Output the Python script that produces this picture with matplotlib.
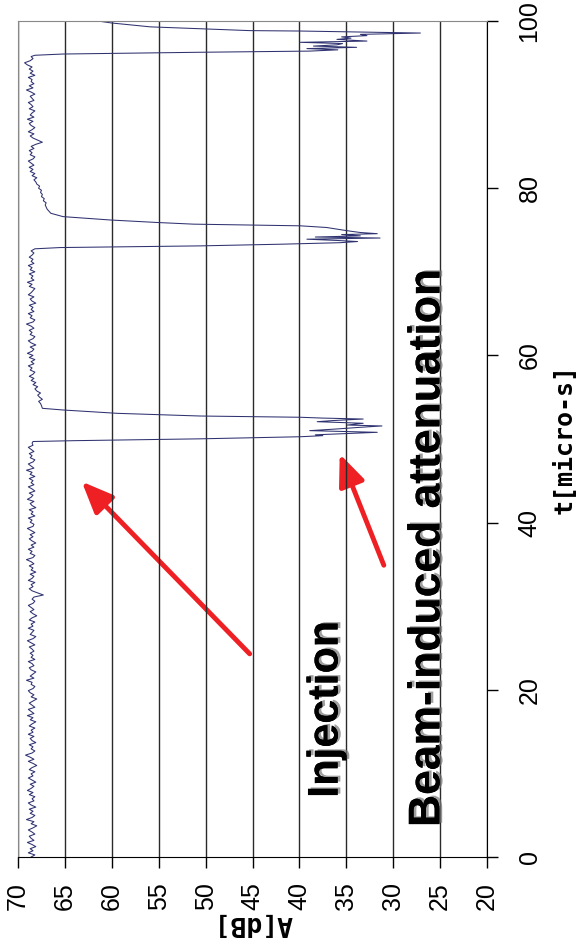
import numpy as np
import matplotlib.pyplot as plt
import matplotlib.patheffects as pe
from matplotlib.patches import FancyArrowPatch

# plateau noise, roughly every 0.25 micro-s
base1 = [68.6, 68.2, 68.9, 68.4, 68.7, 68.1, 68.5, 69.0, 68.3, 68.6, 68.8, 68.2, 68.5, 68.9, 68.4, 68.0, 68.6, 68.3, 69.1, 68.5,
         68.2, 68.7, 68.4, 68.8, 68.1, 68.6, 68.9, 68.3, 68.5, 68.2, 68.8, 68.4, 69.0, 68.6, 68.3, 68.7, 68.1, 68.5, 68.9, 68.4,
         68.6, 68.2, 68.8, 68.5, 68.0, 68.4, 68.9, 68.3, 68.7, 69.2, 68.5, 68.2, 68.6, 68.4, 68.8, 68.1, 68.5, 68.7, 68.3, 68.9,
         68.4, 68.6, 68.2, 68.8, 68.5, 68.1, 68.7, 68.4, 69.0, 68.3, 68.6, 68.9, 68.2, 68.5, 68.8, 68.4, 68.0, 68.6, 68.3, 68.7,
         68.9, 68.4, 68.2, 68.6, 68.5, 69.1, 68.3, 68.7, 68.4, 68.1, 68.6, 68.8, 68.3, 68.5, 68.9, 68.2, 68.6, 68.4, 68.7, 68.3,
         68.5, 68.8, 68.2, 68.6, 69.0, 68.4, 68.1, 68.7, 68.5, 68.3, 68.9, 68.4, 68.6, 68.2, 68.8, 68.5, 68.0, 68.4, 68.7, 68.3,
         68.6, 68.9, 68.4, 68.2, 68.5, 68.3, 67.3, 67.9, 68.5, 68.8, 68.4, 68.6, 68.2, 68.9, 68.5, 68.3, 68.7, 68.1, 68.6, 68.4,
         68.8, 68.3, 68.6, 69.1, 68.4, 68.2, 68.7, 68.5, 68.9, 68.3, 68.6, 68.1, 68.5, 68.8, 68.4, 68.7, 68.2, 68.6, 69.0, 68.4,
         68.3, 68.7, 68.5, 68.9, 68.2, 68.6, 68.4, 68.8, 68.1, 68.5, 68.7, 68.3, 69.0, 68.6, 68.4, 68.8, 68.2, 68.5, 68.9, 68.3,
         68.6, 68.4, 68.8, 68.2, 68.7, 68.5, 69.1, 68.3, 68.6, 68.9, 68.4, 68.2, 68.7, 68.5, 68.8, 68.3, 68.6, 68.9, 68.4, 68.5]
base2 = [67.5, 67.6, 67.8, 67.4, 67.7, 67.9, 67.6, 68.0, 68.2, 67.9, 68.4, 68.1, 68.6, 68.3, 68.8, 68.4, 68.2, 68.7, 68.5, 68.9,
         68.3, 68.6, 68.2, 68.8, 68.4, 69.0, 68.5, 68.3, 68.7, 68.1, 68.6, 68.9, 68.4, 68.2, 68.7, 68.5, 68.8, 68.3, 68.6, 69.1,
         68.4, 68.2, 68.7, 68.5, 68.9, 68.3, 68.6, 68.4, 68.8, 68.1, 68.5, 68.7, 68.3, 68.9, 68.6, 68.4, 68.2, 68.8, 68.5, 69.0,
         68.3, 68.6, 68.4, 68.8, 68.2, 68.7, 68.5, 68.9, 68.3, 68.6, 68.4, 68.8, 68.5, 68.3, 68.6]
base3 = [66.5, 66.7, 66.9, 67.0, 67.1, 67.0, 67.3, 67.2, 67.5, 67.4, 67.6, 67.5, 67.8, 67.7, 68.0, 68.1, 68.3, 68.0, 68.5, 68.2,
         68.7, 68.4, 68.8, 68.3, 68.6, 68.9, 68.4, 68.2, 68.7, 68.5, 68.8, 68.3, 68.6, 68.1, 67.4, 67.9, 68.4, 68.7, 68.3, 68.9,
         68.5, 68.2, 68.6, 68.8, 68.4, 69.0, 68.3, 68.7, 68.5, 68.2, 68.8, 68.4, 68.6, 68.9, 68.3, 68.5, 68.7, 68.2, 68.6, 69.1,
         68.4, 68.8, 68.3, 68.6, 68.5, 68.9, 68.2, 68.7, 68.4, 68.8, 68.5, 69.0, 69.3, 68.7, 68.4, 68.6]
base_spans = [(0, 49.5), (54, 72.5), (77, 95.75)]

# attenuation bursts
dip1_t = [49.7, 49.8, 50.02, 50.27, 50.4, 50.5, 50.65, 50.8, 51.0, 51.2, 51.4, 51.56,
          51.67, 51.88, 52.07, 52.2, 52.39, 52.5, 52.6, 52.75, 53.07, 53.47, 53.67]
dip1_a = [68.4, 64.0, 50.6, 39.9, 37.5, 38.3, 35.0, 31.7, 38.9, 36.0, 33.5, 31.2,
          34.9, 33.2, 38.1, 36.5, 33.2, 37.5, 39.9, 50.6, 59.4, 65.2, 67.4]
dip2_t = [72.75, 72.9, 73.1, 73.3, 73.48, 73.62, 73.75, 73.9, 74.04, 74.16, 74.3, 74.45,
          74.56, 74.7, 74.85, 75.0, 75.3, 75.5, 75.6, 75.7, 75.9, 76.2, 76.6]
dip2_a = [68.2, 65.5, 50.6, 42.0, 35.7, 33.8, 36.0, 39.2, 31.4, 38.3, 33.5, 35.5,
          31.7, 33.5, 34.5, 35.4, 37.1, 39.9, 45.3, 51.3, 55.2, 60.2, 65.2]
dip3_t = [95.9, 96.05, 96.26, 96.4, 96.55, 96.7, 96.85, 97.0, 97.15, 97.3, 97.45, 97.6,
          97.8, 97.95, 98.1, 98.25, 98.4, 98.56, 98.75, 98.8, 98.85, 99.04, 99.3, 99.76, 100.0]
dip3_a = [68.2, 65.2, 50.6, 38.9, 35.9, 39.2, 33.9, 38.5, 36.0, 35.4, 39.9, 32.8,
          36.0, 34.5, 35.5, 32.8, 33.5, 27.1, 37.5, 39.9, 45.3, 49.9, 55.9, 60.0, 61.5]

a_ticks = [70, 65, 60, 55, 50, 45, 40, 35, 30, 25, 20]
t_ticks = [0, 20, 40, 60, 80, 100]

bases = [base1, base2, base3]
t_base = [np.linspace(s, e, len(b)) for (s, e), b in zip(base_spans, bases)]
t = np.concatenate([t_base[0], dip1_t, t_base[1], dip2_t, t_base[2], dip3_t])
a = np.concatenate([base1, dip1_a, base2, dip2_a, base3, dip3_a])

fig = plt.figure(figsize=(5.81, 9.5), dpi=100)
ax = fig.add_axes([18 / 581, 93 / 950, 469 / 581, 836 / 950])

# chart is drawn turned a quarter turn: A runs along the bottom, t up the right side
ax.plot(a, t, color='#2f3270', lw=0.75)
ax.set_xlim(70, 20)
ax.set_ylim(0, 100)
ax.set_xticks(a_ticks)
ax.set_yticks(t_ticks)
ax.grid(axis='x', color='#2a2a2a', lw=1.0)
ax.grid(axis='y', visible=False)
ax.yaxis.tick_right()
ax.yaxis.set_label_position('right')
ax.tick_params(axis='x', length=8, width=1, pad=10, labelsize=18, labelrotation=90)
ax.tick_params(axis='y', length=8, width=1, pad=14, labelsize=18, labelrotation=90,
               left=False)
for lab in ax.get_xticklabels() + ax.get_yticklabels():
    lab.set_family('Liberation Sans')
for lab in ax.get_yticklabels():
    lab.set_va('center')
for s in ['left', 'top']:
    ax.spines[s].set_color('#888888')
ax.spines['right'].set_color('black')
ax.spines['bottom'].set_color('black')

ax.set_xlabel('A[dB]', family='DejaVu Sans Mono', weight='bold', fontsize=19,
              rotation=180, labelpad=0)
ax.set_ylabel('t[micro-s]', family='DejaVu Sans Mono', weight='bold', fontsize=18,
              rotation=90, labelpad=8)

red = '#ee2024'
for (a0, t0), (a1, t1) in [((45.3, 24.3), (63.2, 44.9)), ((31.0, 34.9), (35.7, 48.2))]:
    ax.add_patch(FancyArrowPatch((a0, t0), (a1, t1),
                                 arrowstyle='-|>,head_length=0.95,head_width=0.4',
                                 mutation_scale=20, color=red, lw=3.5,
                                 shrinkA=0, shrinkB=0))

shadow = [pe.withSimplePatchShadow(offset=(2, 1), shadow_rgbFace='#777777', alpha=0.7),
          pe.Normal()]
ax.text(37.1, 17.6, 'Injection', rotation=90, ha='center', va='center',
        family='Liberation Sans', weight='bold', fontsize=31, path_effects=shadow)
ax.text(26.3, 37.0, 'Beam-induced attenuation', rotation=90, ha='center', va='center',
        family='Liberation Sans', weight='bold', fontsize=32, path_effects=shadow)

fig.savefig('out.png', dpi=100)
